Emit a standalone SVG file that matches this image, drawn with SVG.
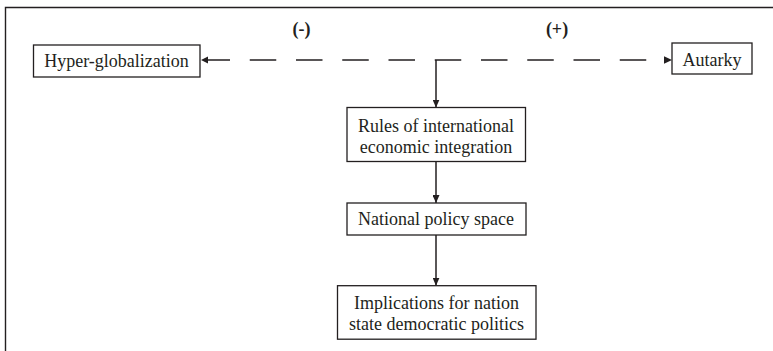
<svg xmlns="http://www.w3.org/2000/svg" width="773" height="351" viewBox="0 0 773 351">
<defs>
<style>
.box{fill:#fff;stroke:#231f20;stroke-width:1.3}
.t{font-family:"Liberation Serif","Times New Roman",serif;font-size:18px;fill:#231f20;text-anchor:middle}
.lbl{font-family:"Liberation Serif","Times New Roman",serif;font-size:18px;font-weight:bold;fill:#231f20;text-anchor:middle}
.ln{stroke:#231f20;stroke-width:1.5;fill:none}
.ah{fill:#231f20}
</style>
<marker id="arr" viewBox="0 0 8 7" refX="8" refY="3.5" markerWidth="8" markerHeight="7" markerUnits="userSpaceOnUse" orient="auto">
<path d="M0,0 L8,3.5 L0,7 Z" fill="#231f20"/>
</marker>
</defs>
<rect width="773" height="351" fill="#fff"/>
<path d="M5.5,351 V7.5 H773" stroke="#231f20" stroke-width="1.4" fill="none"/>
<text class="lbl" x="301.5" y="35">(-)</text>
<text class="lbl" x="557" y="35">(+)</text>
<g id="connectors">
<line class="ln" x1="203.5" y1="60" x2="646.5" y2="60" stroke-dasharray="26.5 19.75"/>
<polygon class="ah" points="201,60 208,56.5 208,63.5"/>
<polygon class="ah" points="672,60 664,56.2 664,63.8"/>
<path class="ln" d="M436,60 V107.5" marker-end="url(#arr)"/>
<path class="ln" d="M436,161.5 V203" marker-end="url(#arr)"/>
<path class="ln" d="M436,235 V285.7" marker-end="url(#arr)"/>
</g>
<g id="hyper">
<rect class="box" x="33.5" y="45" width="166.5" height="32"/>
<text class="t" x="116.5" y="67">Hyper-globalization</text>
</g>
<g id="autarky">
<rect class="box" x="672" y="43" width="80" height="31"/>
<text class="t" x="712" y="66">Autarky</text>
</g>
<g id="rules">
<rect class="box" x="347" y="107.5" width="178.5" height="54"/>
<text class="t" x="436" y="131.5">Rules of international</text>
<text class="t" x="436" y="152.5">economic integration</text>
</g>
<g id="national">
<rect class="box" x="347" y="203" width="179" height="32"/>
<text class="t" x="436" y="225">National policy space</text>
</g>
<g id="implications">
<rect class="box" x="337.5" y="285.7" width="198.5" height="53.5"/>
<text class="t" x="436.5" y="309">Implications for nation</text>
<text class="t" x="436.5" y="330">state democratic politics</text>
</g>
</svg>
